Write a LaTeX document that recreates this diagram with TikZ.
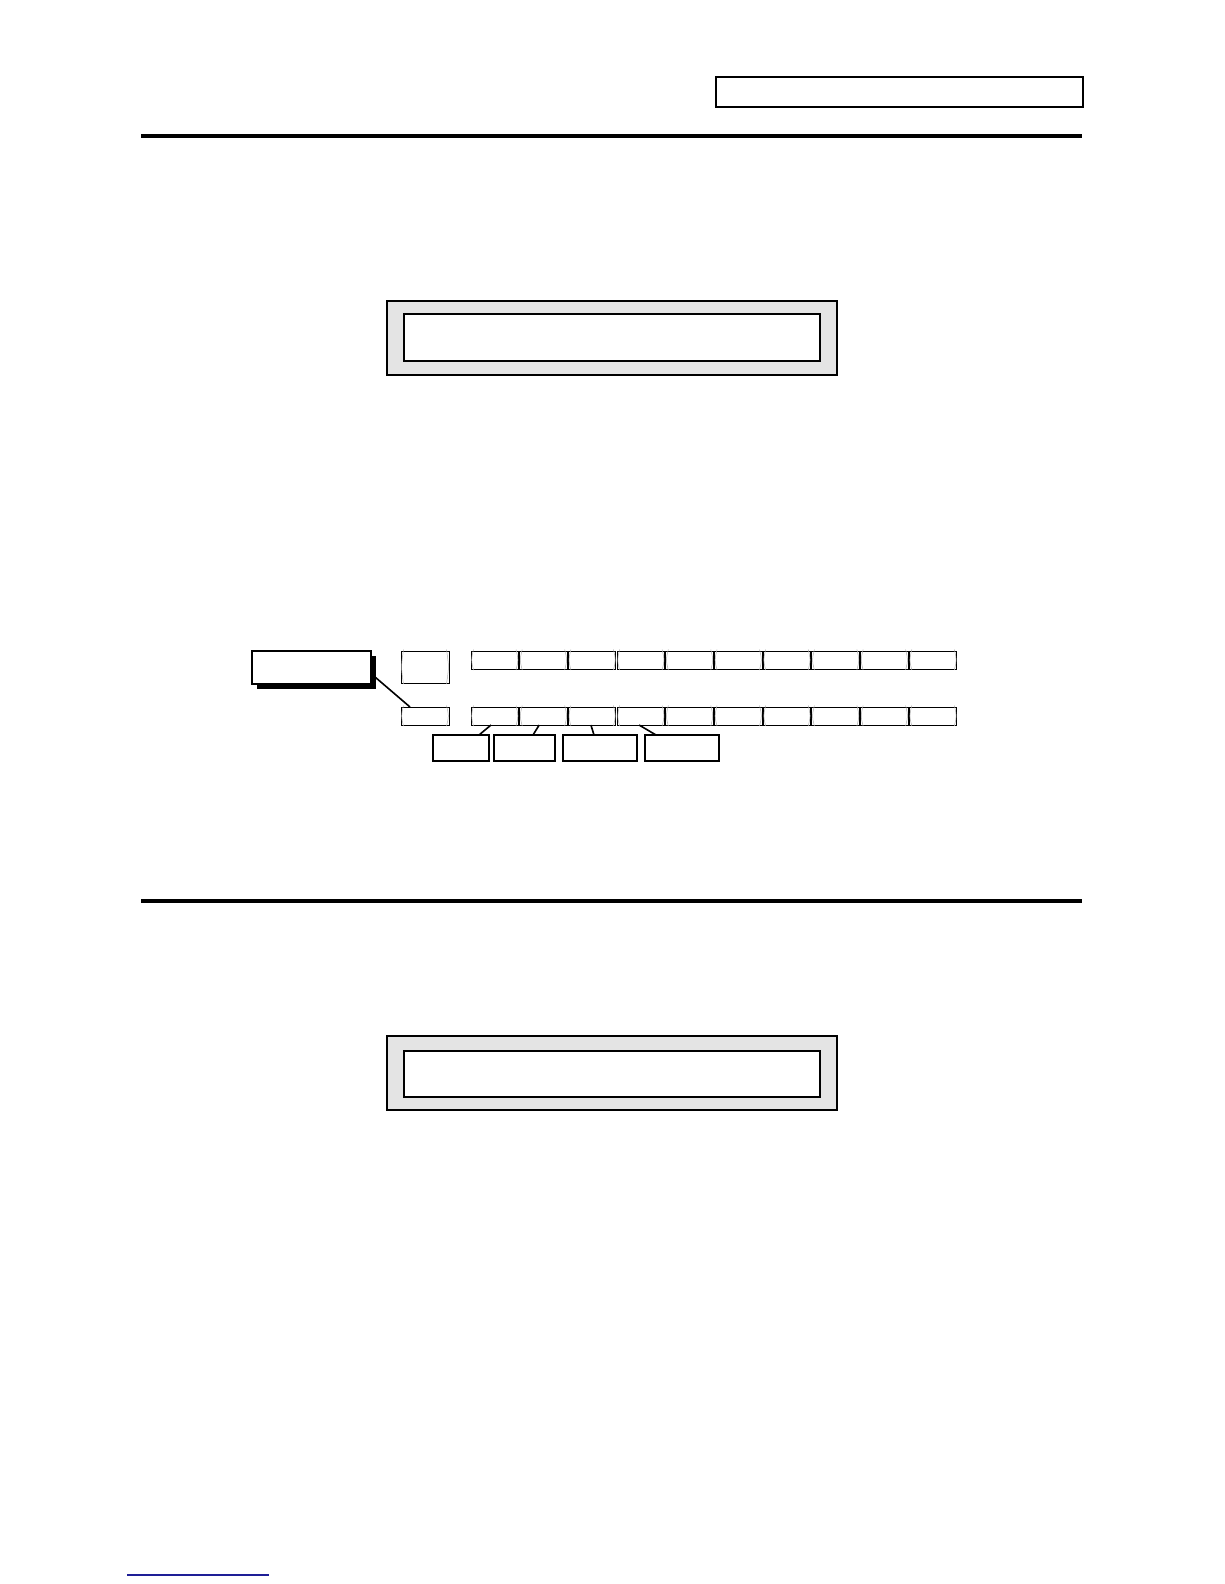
\documentclass[tikz,border=0pt]{standalone}
\usetikzlibrary{calc}
\definecolor{panelgray}{RGB}{228,228,228}
\definecolor{linkblue}{RGB}{30,30,150}
\definecolor{markgray}{RGB}{175,175,175}
\tikzset{
  plainbox/.style={draw=black, line width=2pt, fill=white, inner sep=0pt, outer sep=0pt, anchor=north west},
  keybox/.style={draw=black, line width=1pt, fill=white, inner sep=0pt, outer sep=0pt, anchor=north west},
  panel/.style={draw=black, line width=2pt, fill=panelgray, inner sep=0pt, outer sep=0pt, anchor=north west},
  rule/.style={line width=4pt},
  lead/.style={line width=1.6pt},
  keyarc/.style={draw=markgray, line width=0.5pt}
}
\begin{document}
\begin{tikzpicture}[x=1pt,y=-1pt]
\useasboundingbox (0,0) rectangle (1224,1584);
% header box and rules
\node[plainbox, minimum width=367pt, minimum height=30pt] (hdr) at (716,77) {};
\coordinate (r1a) at (141,136); \coordinate (r1b) at (1082,136);
\draw[rule] (r1a) -- (r1b);
\coordinate (r2a) at (141,901); \coordinate (r2b) at (1082,901);
\draw[rule] (r2a) -- (r2b);
% display 1
\node[panel, minimum width=450pt, minimum height=74pt] (d1) at (387,301) {};
\node[plainbox, minimum width=416pt, minimum height=47pt] (d1in) at (404,314) {};
% display 2
\node[panel, minimum width=450pt, minimum height=74pt] (d2) at (387,1036) {};
\node[plainbox, minimum width=416pt, minimum height=46pt] (d2in) at (404,1051) {};
% shadowed label box
\fill[black] (257,656) rectangle (376,689);
\node[plainbox, minimum width=119pt, minimum height=33pt] (sb) at (252,651) {};
% square key and small key
\node[keybox, minimum width=48pt, minimum height=32pt] (sq) at (401,651) {};
\node[keybox, minimum width=48pt, minimum height=18pt] (sk) at (401,707) {};
\foreach \n in {sq,sk}{
  \draw[keyarc] ($(\n.north west)+(2.5,-1.5)$) .. controls ($(\n.west)+(0,0)$) .. ($(\n.south west)+(2.5,1)$);
  \draw[keyarc] ($(\n.north east)+(-2.5,-1.5)$) .. controls ($(\n.east)+(0,0)$) .. ($(\n.south east)+(-2.5,1)$);
}
% rows of keys
\foreach \i in {0,...,9}{
  \node[keybox, minimum width=47.5pt, minimum height=18pt] (t\i) at ({471+48.7*\i},651) {};
  \node[keybox, minimum width=47.5pt, minimum height=18pt] (b\i) at ({471+48.7*\i},707) {};
  \foreach \n in {t\i,b\i}{
    \draw[keyarc] ($(\n.north west)+(2.5,-1.5)$) .. controls ($(\n.west)+(0,0)$) .. ($(\n.south west)+(2.5,1)$);
    \draw[keyarc] ($(\n.north east)+(-2.5,-1.5)$) .. controls ($(\n.east)+(0,0)$) .. ($(\n.south east)+(-2.5,1)$);
  }
}
% lower label boxes
\node[plainbox, minimum width=56pt, minimum height=26pt] (l1) at (433,735) {};
\node[plainbox, minimum width=61pt, minimum height=26pt] (l2) at (494,735) {};
\node[plainbox, minimum width=74pt, minimum height=26pt] (l3) at (563,735) {};
\node[plainbox, minimum width=74pt, minimum height=26pt] (l4) at (645,735) {};
% leaders
\draw[lead] ($(sb.south east)+(4,-7)$) -- ($(sk.north west)+(9,0)$);
\draw[lead] ($(b0.south west)+(20,0)$) -- ($(l1.north west)+(46,0)$);
\draw[lead] ($(b1.south west)+(19.5,0)$) -- ($(l2.north west)+(39,0)$);
\draw[lead] ($(b2.south west)+(22.5,0)$) -- ($(l3.north west)+(31,0)$);
\draw[lead] ($(b3.south west)+(22,0)$) -- ($(l4.north west)+(11,0)$);
% bottom link line
\coordinate (bl1) at (127,1575); \coordinate (bl2) at (269,1575);
\draw[linkblue, line width=1.2pt] (bl1) -- (bl2);
\end{tikzpicture}
\end{document}
